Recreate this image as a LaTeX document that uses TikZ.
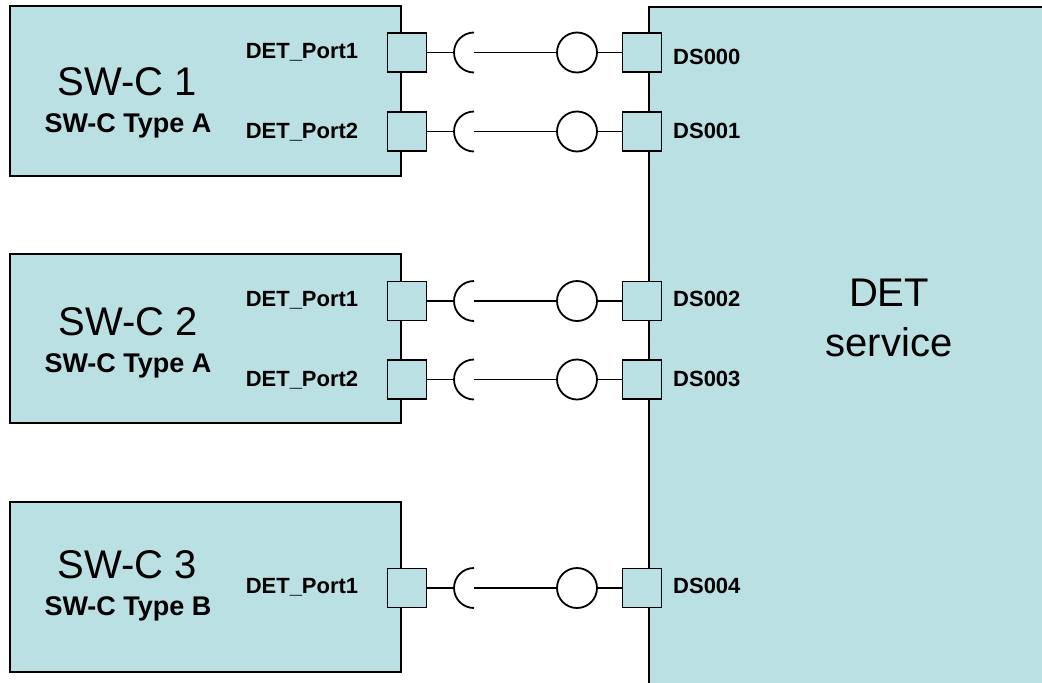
\documentclass[tikz,border=0pt]{standalone}
\usepackage{fontspec}
\setmainfont{Liberation Sans}
\usepackage{tikz}
\definecolor{swcfill}{HTML}{BBE0E3}

\begin{document}
\begin{tikzpicture}[x=1pt, y=-1pt,
    box/.style={rectangle, draw, fill=swcfill, line width=1.8pt, inner sep=0pt},
    port/.style={rectangle, draw, fill=swcfill, line width=1.8pt,
                 minimum size=39pt, inner sep=0pt},
    sock/.style={circle, minimum size=40pt, inner sep=0pt, outer sep=0pt},
    plug/.style={circle, draw, fill=white, line width=1.8pt,
                 minimum size=40pt, inner sep=0pt},
    conn/.style={line width=1.8pt},
    swcname/.style={font=\fontsize{40}{48}\selectfont, inner sep=0pt, anchor=base},
    swctype/.style={font=\bfseries\fontsize{27}{32}\selectfont, inner sep=0pt, anchor=base},
    portlbl/.style={font=\bfseries\fontsize{22}{26}\selectfont, inner sep=0pt, anchor=base},
    dslbl/.style={font=\bfseries\fontsize{22}{26}\selectfont, inner sep=0pt, anchor=base west}]
    \useasboundingbox (0,0) rectangle (1042,683);
    \clip (0,0) rectangle (1042,683);
    % components
    \node[box, minimum width=391pt, minimum height=170pt] (swc1) at (205.5,91) {};
    \node[box, minimum width=391pt, minimum height=169pt] (swc2) at (205.5,338.5) {};
    \node[box, minimum width=391pt, minimum height=170pt] (swc3) at (205.5,587) {};
    \node[box, anchor=north west, minimum width=420pt, minimum height=700pt] (det) at (648,6) {};
    \node[swcname] (n1) at (127,95) {SW-C 1};
    \node[swctype] (t1) at (128,132) {SW-C Type A};
    \node[swcname] (n2) at (128,335) {SW-C 2};
    \node[swctype] (t2) at (128,372) {SW-C Type A};
    \node[swcname] (n3) at (127,578) {SW-C 3};
    \node[swctype] (t3) at (128,615) {SW-C Type B};
    \node[swcname, anchor=center, align=center, font=\fontsize{40}{50}\selectfont]
        (dettxt) at (889,318) {DET\\service};
    % SW-C 1, DET_Port1 <-> DS000
    \node[port] (pl1) at (407,52.5) {};
    \node[sock, right of=pl1, node distance=67pt] (so1) {};
    \node[plug, right of=so1, node distance=103pt] (pg1) {};
    \node[port, right of=pg1, node distance=65pt] (pr1) {};
    \node[portlbl] (lp1) at (302,58) {DET\_Port1};
    \node[dslbl] (ds1) at (673,64) {DS000};
    \draw[conn] (pl1) -- (so1);
    \draw[conn] (so1.north) arc[start angle=90, end angle=270, radius=20pt];
    \draw[conn] (so1.center) -- (pg1);
    \draw[conn] (pg1) -- (pr1);
    % SW-C 1, DET_Port2 <-> DS001
    \node[port] (pl2) at (407,131.5) {};
    \node[sock, right of=pl2, node distance=67pt] (so2) {};
    \node[plug, right of=so2, node distance=103pt] (pg2) {};
    \node[port, right of=pg2, node distance=65pt] (pr2) {};
    \node[portlbl] (lp2) at (302,138) {DET\_Port2};
    \node[dslbl] (ds2) at (673,138) {DS001};
    \draw[conn] (pl2) -- (so2);
    \draw[conn] (so2.north) arc[start angle=90, end angle=270, radius=20pt];
    \draw[conn] (so2.center) -- (pg2);
    \draw[conn] (pg2) -- (pr2);
    % SW-C 2, DET_Port1 <-> DS002
    \node[port] (pl3) at (407,301) {};
    \node[sock, right of=pl3, node distance=67pt] (so3) {};
    \node[plug, right of=so3, node distance=103pt] (pg3) {};
    \node[port, right of=pg3, node distance=65pt] (pr3) {};
    \node[portlbl] (lp3) at (302,306) {DET\_Port1};
    \node[dslbl] (ds3) at (673,306) {DS002};
    \draw[conn] (pl3) -- (so3);
    \draw[conn] (so3.north) arc[start angle=90, end angle=270, radius=20pt];
    \draw[conn] (so3.center) -- (pg3);
    \draw[conn] (pg3) -- (pr3);
    % SW-C 2, DET_Port2 <-> DS003
    \node[port] (pl4) at (407,379.5) {};
    \node[sock, right of=pl4, node distance=67pt] (so4) {};
    \node[plug, right of=so4, node distance=103pt] (pg4) {};
    \node[port, right of=pg4, node distance=65pt] (pr4) {};
    \node[portlbl] (lp4) at (302,386) {DET\_Port2};
    \node[dslbl] (ds4) at (673,386) {DS003};
    \draw[conn] (pl4) -- (so4);
    \draw[conn] (so4.north) arc[start angle=90, end angle=270, radius=20pt];
    \draw[conn] (so4.center) -- (pg4);
    \draw[conn] (pg4) -- (pr4);
    % SW-C 3, DET_Port1 <-> DS004
    \node[port] (pl5) at (407,588) {};
    \node[sock, right of=pl5, node distance=67pt] (so5) {};
    \node[plug, right of=so5, node distance=103pt] (pg5) {};
    \node[port, right of=pg5, node distance=65pt] (pr5) {};
    \node[portlbl] (lp5) at (302,593) {DET\_Port1};
    \node[dslbl] (ds5) at (673,593) {DS004};
    \draw[conn] (pl5) -- (so5);
    \draw[conn] (so5.north) arc[start angle=90, end angle=270, radius=20pt];
    \draw[conn] (so5.center) -- (pg5);
    \draw[conn] (pg5) -- (pr5);
\end{tikzpicture}
\end{document}
